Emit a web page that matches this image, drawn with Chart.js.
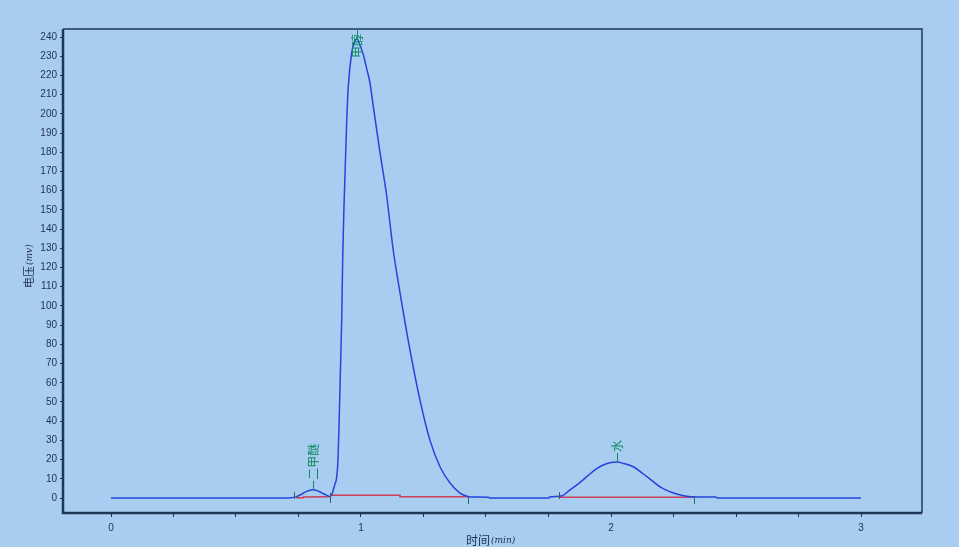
<!DOCTYPE html>
<html>
<head>
<meta charset="utf-8">
<script src="https://cdn.jsdelivr.net/npm/chart.js@4/dist/chart.umd.min.js"></script>
<style>
  body { margin: 0; background: #a9cdf1; }
  #wrap { width: 959px; height: 547px; }
</style>
</head>
<body>
<div id="wrap"><canvas id="chart" width="959" height="547"></canvas></div>
<script>
// chromatogram trace, time (min) / voltage (mV)
var traceTime = [0, 0.70, 0.72, 0.74, 0.76, 0.78, 0.80, 0.81, 0.83, 0.85, 0.87, 0.876,
  0.885, 0.895, 0.903, 0.908, 0.913, 0.918, 0.923, 0.927, 0.932, 0.943, 0.949, 0.963,
  0.975, 0.985, 0.995, 1.009, 1.022, 1.036, 1.049, 1.076, 1.103, 1.129, 1.156, 1.196, 1.236,
  1.276, 1.316, 1.356, 1.396, 1.428, 1.45, 1.51, 1.515, 1.75, 1.755, 1.80, 1.836, 1.87,
  1.903, 1.94, 1.969, 2.0, 2.023, 2.05, 2.089, 2.13, 2.169, 2.20, 2.236, 2.27, 2.303,
  2.33, 2.42, 2.425, 3.0];
var traceVolt = [0, 0, 0.1, 0.6, 1.8, 3.3, 4.2, 4.3, 3.5, 2.2, 1.0, 0.8,
  2.5, 7, 11, 20, 42, 68, 94, 126, 152, 197, 214, 232,
  238, 239, 236, 231, 224, 216, 204, 180, 157, 129, 107, 77, 51,
  30, 16.3, 7.8, 2.6, 0.8, 0.5, 0.4, 0, 0, 0.5, 1.0, 4.2, 7.5,
  11.1, 15, 17.2, 18.5, 18.7, 18, 16.3, 12.5, 8.5, 5.5, 3.3, 1.8, 0.9,
  0.6, 0.5, 0, 0];

// integration baselines (null = gap)
var baseTime = [0.74, 0.77, 0.77, 0.876, 0.877, 0.877, 1.156, 1.156, 1.428, 1.43, 1.79, 2.33];
var baseVolt = [0.1, 0.1, 0.5, 0.6, null, 1.4, 1.4, 0.7, 0.7, null, 0.4, 0.4];

// peak start / end marks (1 = above line, -1 = below, 0 = across)
var markTime = [0.733, 0.876, 1.428, 1.79, 2.33];
var markDir = [1, 0, -1, 1, -1];

var peakNames = ['二甲醚', '甲醇', '水'];
var peakTime = [0.806, 0.985, 2.023];
var peakVolt = [4.3, 239, 18.7];

var xTicks = [0, 0.25, 0.5, 0.75, 1, 1.25, 1.5, 1.75, 2, 2.25, 2.5, 2.75, 3];
var yTicks = [0, 10, 20, 30, 40, 50, 60, 70, 80, 90, 100, 110, 120, 130, 140, 150, 160,
  170, 180, 190, 200, 210, 220, 230, 240];

var axisColor = '#1e3050';
var labelGreen = '#0f8a5f';

var trace = traceTime.map((t, i) => ({ x: t, y: traceVolt[i] }));
var baseline = baseTime.map((t, i) => ({ x: t, y: baseVolt[i] }));

const background = {
  id: 'background',
  beforeDraw: chart => {
    const c = chart.ctx;
    c.save();
    c.fillStyle = '#a9cdf1';
    c.fillRect(0, 0, chart.width, chart.height);
    c.restore();
  }
};

const decorations = {
  id: 'decorations',
  afterDatasetsDraw: chart => {
    const c = chart.ctx;
    const xs = chart.scales.x, ys = chart.scales.y;
    const a = chart.chartArea;
    c.save();

    // peak start / end marks
    c.strokeStyle = '#2a6a5a';
    c.lineWidth = 1;
    markTime.forEach((t, i) => {
      const px = Math.round(xs.getPixelForValue(t)) + 0.5;
      const py = ys.getPixelForValue(0);
      let y1 = py - 6, y2 = py + 1;
      if (markDir[i] < 0) { y1 = py - 1; y2 = py + 6; }
      if (markDir[i] === 0) { y1 = py - 5; y2 = py + 5; }
      c.beginPath();
      c.moveTo(px, y1);
      c.lineTo(px, y2);
      c.stroke();
    });

    // peak names, vertical
    c.font = '12px "Noto Sans CJK SC"';
    c.fillStyle = labelGreen;
    c.strokeStyle = labelGreen;
    peakNames.forEach((name, i) => {
      const px = Math.round(xs.getPixelForValue(peakTime[i])) + 0.5;
      const py = ys.getPixelForValue(peakVolt[i]);
      const w = c.measureText(name).width;
      let bottom = py - 10;
      if (bottom - w < a.top + 5) bottom = a.top + 5 + w;
      c.beginPath();
      c.moveTo(px, py);
      c.lineTo(px, py - 9);
      c.stroke();
      c.save();
      c.translate(px, bottom);
      c.rotate(-Math.PI / 2);
      c.textAlign = 'left';
      c.textBaseline = 'middle';
      c.fillText(name, 0, 0);
      c.restore();
    });

    // plot frame
    c.strokeStyle = '#1f3858';
    c.lineWidth = 1.5;
    c.beginPath();
    c.moveTo(a.left, a.top);
    c.lineTo(a.right, a.top);
    c.lineTo(a.right, a.bottom);
    c.stroke();
    c.lineWidth = 2.5;
    c.beginPath();
    c.moveTo(a.left, a.top);
    c.lineTo(a.left, a.bottom);
    c.lineTo(a.right, a.bottom);
    c.stroke();

    // axis titles
    c.fillStyle = axisColor;
    c.textBaseline = 'middle';
    c.textAlign = 'left';
    c.save();
    c.translate(29, 288);
    c.rotate(-Math.PI / 2);
    c.font = '11px "Noto Sans CJK SC"';
    c.fillText('电压', 0, 0);
    let w = c.measureText('电压').width;
    c.font = 'italic 9px "DejaVu Serif"';
    c.fillText('(mv)', w + 1, 1);
    c.restore();

    c.font = '12px "Noto Sans CJK SC"';
    c.fillText('时间', 466, 540);
    w = c.measureText('时间').width;
    c.font = 'italic 9px "DejaVu Serif"';
    c.fillText('(min)', 466 + w + 1, 541);

    c.restore();
  }
};

const config = {
  type: 'scatter',
  data: {
    datasets: [{
      data: trace,
      showLine: true,
      borderColor: '#2444dc',
      borderWidth: 1.5,
      pointRadius: 0,
      cubicInterpolationMode: 'monotone',
      order: 1
    },
    {
      data: baseline,
      showLine: true,
      spanGaps: false,
      borderColor: '#c8405a',
      borderWidth: 1.5,
      pointRadius: 0,
      order: 2
    }]
  },
  options: {
    responsive: false,
    animation: false,
    layout: { padding: { left: 0, top: 29, right: 37, bottom: 0 } },
    plugins: { legend: { display: false }, tooltip: { enabled: false } },
    scales: {
      x: {
        type: 'linear',
        min: -0.192,
        max: 3.244,
        border: { display: false },
        grid: { drawOnChartArea: false, drawTicks: true, tickLength: 4, tickColor: axisColor },
        ticks: {
          autoSkip: false,
          maxRotation: 0,
          padding: 5,
          color: axisColor,
          font: { family: '"Liberation Sans"', size: 10 },
          callback: v => Number.isInteger(v) ? String(v) : ''
        },
        afterBuildTicks: s => { s.ticks = xTicks.map(v => ({ value: v })); },
        afterFit: s => { s.height = 34; }
      },
      y: {
        type: 'linear',
        min: -7.8,
        max: 244.2,
        border: { display: false },
        grid: { drawOnChartArea: false, drawTicks: true, tickLength: 3, tickColor: axisColor },
        ticks: {
          autoSkip: false,
          padding: 3,
          color: axisColor,
          font: { family: '"Liberation Sans"', size: 10 }
        },
        afterBuildTicks: s => { s.ticks = yTicks.map(v => ({ value: v })); },
        afterFit: s => { s.width = 63; }
      }
    }
  },
  plugins: [background, decorations]
};

const chart = new Chart(document.getElementById('chart').getContext('2d'), config);
</script>
</body>
</html>
